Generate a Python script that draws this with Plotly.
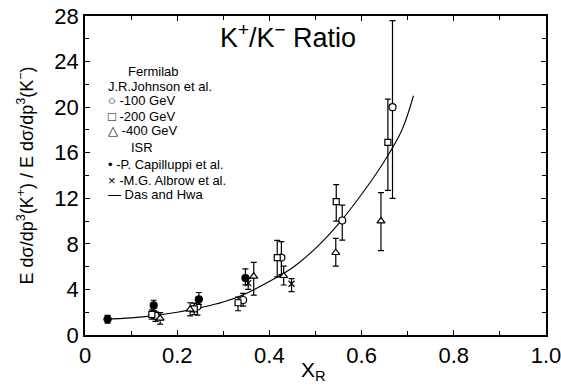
import plotly.graph_objects as go

# ---- data ----
# Fermilab, J.R. Johnson et al.
x100 = [0.153, 0.244, 0.343, 0.426, 0.558, 0.667]
y100 = [1.70, 2.50, 3.07, 6.80, 10.05, 20.0]
e100_hi = [0.33, 0.57, 0.59, 1.40, 1.35, 7.6]
e100_lo = [0.50, 0.75, 0.53, 1.50, 1.72, 8.0]

x200 = [0.145, 0.237, 0.332, 0.417, 0.545, 0.657]
y200 = [1.80, 2.30, 2.83, 6.80, 11.7, 16.9]
e200_hi = [0.40, 0.50, 0.50, 1.50, 1.50, 3.8]
e200_lo = [0.40, 0.50, 0.70, 1.70, 1.70, 4.2]

x400 = [0.163, 0.228, 0.366, 0.431, 0.544, 0.642]
y400 = [1.46, 2.25, 5.15, 5.20, 7.22, 10.0]
e400_hi = [0.50, 0.58, 1.23, 0.85, 1.26, 2.5]
e400_lo = [0.50, 0.58, 1.65, 0.81, 1.17, 2.6]

# ISR
x_cap = [0.049, 0.149, 0.247, 0.348]
y_cap = [1.38, 2.60, 3.13, 5.00]
e_cap_hi = [0.35, 0.45, 0.60, 0.80]
e_cap_lo = [0.35, 0.45, 0.45, 0.60]

x_alb = [0.354, 0.448]
y_alb = [4.55, 4.50]
e_alb_hi = [0.45, 0.45]
e_alb_lo = [0.55, 0.70]

# Das and Hwa curve
x_dh = [0.04, 0.10, 0.15, 0.20, 0.25, 0.30, 0.35, 0.40, 0.45, 0.50, 0.55, 0.60, 0.65, 0.6875, 0.7125]
y_dh = [1.38, 1.50, 1.70, 2.00, 2.40, 2.90, 3.65, 4.70, 5.90, 7.60, 9.75, 12.35, 15.3, 18.0, 21.0]

x_tickvals = [0, 0.2, 0.4, 0.6, 0.8, 1.0]
x_ticktext = ["0", "0.2", "0.4", "0.6", "0.8", "1.0"]
y_tickvals = [0, 4, 8, 12, 16, 20, 24, 28]
y_ticktext = ["0", "4", "8", "12", "16", "20", "24", "28"]

legend_lines = [
    ("Fermilab", 126, 71),
    ("J.R.Johnson et al.", 106, 87),
    ("○ -100 GeV", 106, 101),
    ("□ -200 GeV", 106, 116),
    ("△ -400 GeV", 106, 130),
    ("ISR", 129, 148),
    ("• -P. Capilluppi et al.", 106, 164),
    ("× -M.G. Albrow et al.", 106, 180),
    ("— Das and Hwa", 106, 194),
]

FONT = "Liberation Sans"
W, H = 561, 387
ML, MR, MT, MB = 85, 15, 16, 52

fig = go.Figure()

fig.add_trace(go.Scatter(x=x_dh, y=y_dh, mode="lines", line=dict(color="black", width=1.1, shape="spline"),
                         name="Das and Hwa", showlegend=False))


def err_trace(x, y, hi, lo, symbol, fill, name, size=7):
    return go.Scatter(
        x=x, y=y, mode="markers", name=name, showlegend=False,
        marker=dict(symbol=symbol, size=size, color=fill,
                    line=dict(color="black", width=1.2)),
        error_y=dict(type="data", symmetric=False, array=hi, arrayminus=lo,
                     color="black", thickness=1.2, width=3),
    )


fig.add_trace(err_trace(x100, y100, e100_hi, e100_lo, "circle", "white", "-100 GeV", 7))
fig.add_trace(err_trace(x200, y200, e200_hi, e200_lo, "square", "white", "-200 GeV", 6))
fig.add_trace(err_trace(x400, y400, e400_hi, e400_lo, "triangle-up", "white", "-400 GeV", 7))
fig.add_trace(err_trace(x_cap, y_cap, e_cap_hi, e_cap_lo, "circle", "black", "-P. Capilluppi et al.", 7))
fig.add_trace(err_trace(x_alb, y_alb, e_alb_hi, e_alb_lo, "x-thin", "black", "-M.G. Albrow et al.", 6))

annotations = []
for txt, px, py in legend_lines:
    annotations.append(dict(text=txt, x=(px - ML) / (W - ML - MR), y=1 - (py - MT) / (H - MT - MB),
                            xref="paper", yref="paper", xanchor="left", yanchor="middle",
                            showarrow=False, font=dict(family=FONT, size=13, color="black")))

# axis titles placed as annotations for precise positioning
annotations.append(dict(text="E dσ/dp<sup>3</sup>(K<sup>+</sup>) / E dσ/dp<sup>3</sup>(K<sup>−</sup>)",
                        x=-(ML - 26) / (W - ML - MR), y=0.5, xref="paper", yref="paper",
                        xanchor="center", yanchor="middle", textangle=-90, showarrow=False,
                        font=dict(family=FONT, size=18, color="black")))
annotations.append(dict(text="X<sub>R</sub>", x=(313 - ML) / (W - ML - MR), y=-(371 - (H - MB)) / (H - MT - MB),
                        xref="paper", yref="paper", xanchor="center", yanchor="middle", showarrow=False,
                        font=dict(family=FONT, size=21, color="black")))

axis_common = dict(ticks="inside", ticklen=5, tickwidth=1, tickcolor="black",
                   showline=True, linecolor="black", linewidth=1.5, mirror="allticks",
                   showgrid=False, zeroline=False, automargin=False, ticklabeloverflow="allow",
                   tickfont=dict(family=FONT, size=22, color="black"))

fig.update_layout(
    width=W, height=H,
    margin=dict(l=ML, r=MR, t=MT, b=MB, autoexpand=False),
    paper_bgcolor="white", plot_bgcolor="white",
    showlegend=False,
    font=dict(family=FONT, color="black"),
    title=dict(text="K<sup>+</sup>/K<sup>−</sup> Ratio", x=288 / W, y=1 - 38 / H,
               xanchor="center", yanchor="middle", font=dict(family=FONT, size=27, color="black")),
    xaxis=dict(range=[0, 1.0], tickmode="array", tickvals=x_tickvals, ticktext=x_ticktext,
               minor=dict(ticks="inside", ticklen=4, tickcolor="black", dtick=0.1, tick0=0, showgrid=False),
               **axis_common),
    yaxis=dict(range=[0, 28], tickmode="array", tickvals=y_tickvals, ticktext=y_ticktext,
               minor=dict(ticks="inside", ticklen=4, tickcolor="black", dtick=2, tick0=0, showgrid=False),
               **axis_common),
    annotations=annotations,
)

fig.write_html("out.html")
